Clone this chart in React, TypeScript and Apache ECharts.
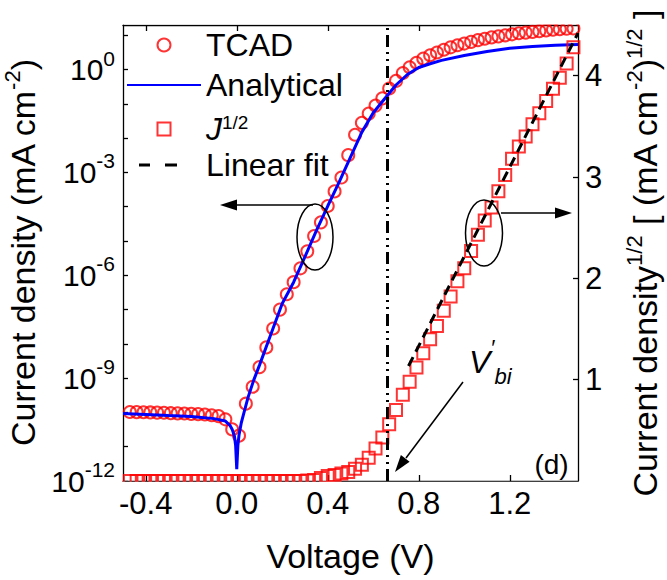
import React, { useEffect, useRef } from 'react';
import * as echarts from 'echarts';

// ---------- data ----------
const voltage = [
  -0.47, -0.44, -0.41, -0.38, -0.35, -0.32, -0.29, -0.26, -0.23, -0.2, -0.17, -0.14, -0.11, -0.08, -0.05, -0.02,
  0.01, 0.04, 0.07, 0.1, 0.13, 0.16, 0.19, 0.22, 0.25, 0.28, 0.31, 0.34, 0.37, 0.4, 0.43, 0.46, 0.49, 0.52,
  0.55, 0.58, 0.61, 0.64, 0.67, 0.7, 0.73, 0.76, 0.79, 0.82, 0.85, 0.88, 0.91, 0.94, 0.97, 1.0, 1.03, 1.06,
  1.09, 1.12, 1.15, 1.18, 1.21, 1.24, 1.27, 1.3, 1.33, 1.36, 1.39, 1.42, 1.45, 1.48,
];
// TCAD current density (mA cm^-2), left log axis
const tcadJ = [
  1.03e-10, 1.02e-10, 1.01e-10, 1.0e-10, 9.9e-11, 9.8e-11, 9.5e-11, 9.4e-11, 9.3e-11, 9.1e-11, 8.9e-11, 8.7e-11,
  8.3e-11, 7.8e-11, 6.3e-11, 3.2e-11, 2.1e-11, 1.8e-10, 5.6e-10, 2.1e-9, 7.9e-9, 2.8e-8, 1.0e-7, 2.8e-7, 6.3e-7,
  1.6e-6, 5.0e-6, 1.4e-5, 3.5e-5, 1.05e-4, 2.8e-4, 7.1e-4, 3.2e-3, 1.26e-2, 2.8e-2, 5.2e-2, 8.9e-2, 0.145, 0.282,
  0.468, 0.794, 1.17, 1.58, 2.09, 2.63, 3.16, 3.8, 4.47, 5.13, 5.75, 6.46, 7.24, 7.94, 8.71, 9.33, 10.0, 10.7,
  11.5, 12.0, 12.6, 13.2, 13.8, 14.5, 15.0, 15.5, 15.8,
];
// J^1/2 ((mA cm^-2)^1/2), right axis
const sqrtJ = [
  0, 0, 0, 0, 0, 0, 0, 0, 0, 0, 0, 0, 0, 0, 0, 0, 0, 0, 0, 0, 0, 0, 0, 0, 0, 0, 0.005, 0.01, 0.03, 0.05, 0.06,
  0.075, 0.09, 0.12, 0.16, 0.23, 0.32, 0.43, 0.56, 0.7, 0.85, 0.98, 1.12, 1.26, 1.4, 1.53, 1.68, 1.82, 1.97,
  2.1, 2.27, 2.43, 2.57, 2.7, 2.86, 3.02, 3.18, 3.3, 3.4, 3.52, 3.63, 3.75, 3.87, 3.98, 4.12, 4.28,
];
// Analytical model curve
const analyticalV = [
  -0.5, -0.4, -0.3, -0.2, -0.1, -0.05, -0.03, -0.02, -0.01, -0.005, 0, 0.005, 0.01, 0.02, 0.03, 0.05, 0.075,
  0.1, 0.15, 0.2, 0.25, 0.3, 0.35, 0.4, 0.45, 0.5, 0.55, 0.6, 0.65, 0.7, 0.75, 0.8, 0.85, 0.9, 1.0, 1.1, 1.2,
  1.3, 1.4, 1.5,
];
const analyticalJ = [
  9.3e-11, 8.7e-11, 8.1e-11, 7.6e-11, 6.6e-11, 5.6e-11, 4.2e-11, 3.2e-11, 2.0e-11, 1.1e-11, 2.2e-12, 1.1e-11,
  2.2e-11, 5.0e-11, 8.9e-11, 2.8e-10, 8.9e-10, 2.4e-9, 1.9e-8, 1.5e-7, 6.3e-7, 3.5e-6, 2.0e-5, 1.05e-4, 5.2e-4,
  2.8e-3, 1.5e-2, 5.5e-2, 0.141, 0.355, 0.72, 1.15, 1.48, 1.86, 2.57, 3.39, 4.17, 4.73, 5.13, 5.43,
];
// Linear fit of J^1/2
const fitV = [0.755, 1.5];
const fitSqrtJ = [1.135, 4.42];
// V'bi marker
const vbiVoltage = 0.66;

// ticks
const xTicks = [-0.4, 0, 0.4, 0.8, 1.2];
const leftLabelTicks = [1e-12, 1e-9, 1e-6, 1e-3, 1];
const leftTicks = [1e-12, 1e-11, 1e-10, 1e-9, 1e-8, 1e-7, 1e-6, 1e-5, 1e-4, 1e-3, 1e-2, 1e-1, 1, 10];
const rightTicks = [1, 2, 3, 4];

const FONT = '"Liberation Sans", Arial, Helvetica, sans-serif';
const BLACK = '#000000';
const RED = '#ff0000';
const BLUE = '#0000ff';
const CLEAR = 'rgba(255,255,255,0)';

export default function App() {
  const ref = useRef<HTMLDivElement>(null);

  useEffect(() => {
    if (!ref.current) return;
    const chart = echarts.init(ref.current, null, { renderer: 'svg' });

    const tcadData = voltage.map((v, i) => [v, tcadJ[i]]);
    const sqrtData = voltage.map((v, i) => [v, sqrtJ[i]]);
    const analyticalData = analyticalV.map((v, i) => [v, analyticalJ[i]]);
    const fitData = fitV.map((v, i) => [v, fitSqrtJ[i]]);

    const axisLine = { show: true, onZero: false, lineStyle: { color: BLACK, width: 1.3 } };
    const tickLine = { color: BLACK, width: 1.3 };

    const nameRich = {
      t: { fontSize: 34, lineHeight: 44, fontFamily: FONT, color: BLACK },
      s: { fontSize: 22, lineHeight: 22, fontFamily: FONT, color: BLACK, verticalAlign: 'top' },
    };
    const hiddenSymbol = { color: CLEAR, borderColor: CLEAR, borderWidth: 0, opacity: 0 };

    const option: any = {
      animation: false,
      backgroundColor: '#ffffff',
      grid: { left: 123, right: 89, top: 25, bottom: 99, containLabel: false, outerBoundsMode: 'none' },
      legend: {
        orient: 'vertical',
        left: 126,
        top: 25,
        padding: 0,
        itemGap: 0,
        itemWidth: 74,
        itemHeight: 13,
        selectedMode: false,
        textStyle: {
          fontSize: 32,
          fontFamily: FONT,
          color: BLACK,
          lineHeight: 40,
          rich: {
            i: {
              fontSize: 32,
              fontStyle: 'italic',
              fontFamily: FONT,
              color: BLACK,
              lineHeight: 32,
              padding: [8, 0, 0, 0],
              verticalAlign: 'bottom',
            },
            s: { fontSize: 19, fontFamily: FONT, color: BLACK, lineHeight: 19, verticalAlign: 'top' },
          },
        },
        formatter: (name: string) => (name === 'J1/2' ? '{i|J}{s|1/2}' : name),
        data: [
          { name: 'TCAD', icon: 'circle' },
          { name: 'Analytical', itemStyle: hiddenSymbol },
          { name: 'J1/2', icon: 'path://M0,0H10V10H0Z' },
          {
            name: 'Linear fit',
            icon: 'path://M0,0L0.01,0M12,5H23V8H12ZM38,5H50V8H38ZM74,13L74.01,13',
            itemStyle: { color: BLACK, borderWidth: 0 },
          },
        ],
      },
      xAxis: [
        {
          type: 'value',
          position: 'bottom',
          min: -0.5,
          max: 1.5,
          axisLine,
          axisTick: { inside: true, length: 6, customValues: xTicks, lineStyle: tickLine },
          axisLabel: {
            customValues: xTicks,
            formatter: (v: number) => v.toFixed(1),
            fontSize: 31,
            fontFamily: FONT,
            color: BLACK,
            margin: 7,
          },
          splitLine: { show: false },
          name: 'Voltage (V)',
          nameLocation: 'middle',
          nameGap: 58,
          nameTextStyle: { fontSize: 34, fontFamily: FONT, color: BLACK },
        },
        {
          type: 'value',
          position: 'top',
          min: -0.5,
          max: 1.5,
          axisLine,
          axisTick: { inside: true, length: 6, customValues: xTicks, lineStyle: tickLine },
          axisLabel: { show: false },
          splitLine: { show: false },
        },
      ],
      yAxis: [
        {
          type: 'log',
          logBase: 10,
          min: 1e-12,
          max: 20,
          position: 'left',
          axisLine,
          axisTick: { inside: true, length: 5, customValues: leftTicks, lineStyle: tickLine },
          axisLabel: {
            customValues: leftLabelTicks,
            formatter: (v: number) => `{b|10}{s|${Math.round(Math.log10(v))}}`,
            margin: 8,
            rich: {
              b: { fontSize: 30, lineHeight: 44, fontFamily: FONT, color: BLACK },
              s: { fontSize: 21, lineHeight: 21, fontFamily: FONT, color: BLACK, verticalAlign: 'top' },
            },
          },
          splitLine: { show: false },
          minorTick: { show: false },
          name: '{t|Current density (mA cm}{s|-2}{t|)}',
          nameLocation: 'middle',
          nameRotate: 90,
          nameGap: 67,
          nameTextStyle: { rich: nameRich },
        },
        {
          type: 'value',
          min: 0,
          max: 4.5,
          position: 'right',
          axisLine,
          axisTick: { inside: true, length: 5, customValues: rightTicks, lineStyle: tickLine },
          axisLabel: {
            customValues: rightTicks,
            fontSize: 31,
            fontFamily: FONT,
            color: BLACK,
            margin: 7,
          },
          splitLine: { show: false },
          name: '{t|Current density}{s|1/2}{t| [ (mA cm}{s|-2}{t|)}{s|1/2}{t| ]}',
          nameLocation: 'middle',
          nameRotate: 90,
          nameGap: 45,
          nameTextStyle: { rich: nameRich },
        },
      ],
      series: [
        {
          name: 'TCAD',
          type: 'scatter',
          xAxisIndex: 0,
          yAxisIndex: 0,
          symbol: 'circle',
          symbolSize: 12,
          itemStyle: { color: CLEAR, borderColor: RED, borderWidth: 2 },
          data: tcadData,
          z: 2,
        },
        {
          name: 'Analytical',
          type: 'line',
          xAxisIndex: 0,
          yAxisIndex: 0,
          symbol: 'none',
          showSymbol: false,
          lineStyle: { color: BLUE, width: 3 },
          itemStyle: { color: BLUE },
          data: analyticalData,
          z: 3,
          markLine: {
            silent: true,
            symbol: 'none',
            label: { show: false },
            lineStyle: { color: BLACK, width: 3, type: [12, 5, 2, 5, 2, 5] },
            data: [{ xAxis: vbiVoltage }],
          },
        },
        {
          name: 'J1/2',
          type: 'scatter',
          xAxisIndex: 0,
          yAxisIndex: 1,
          symbol: 'rect',
          symbolSize: 12,
          itemStyle: { color: CLEAR, borderColor: RED, borderWidth: 2 },
          data: sqrtData,
          z: 4,
        },
        {
          name: 'Linear fit',
          type: 'line',
          xAxisIndex: 0,
          yAxisIndex: 1,
          symbol: 'none',
          showSymbol: false,
          lineStyle: { color: BLACK, width: 3, type: [10, 6] },
          itemStyle: { color: BLACK },
          data: fitData,
          z: 5,
        },
      ],
      graphic: [
        // masks outside the frame (clip partly drawn symbols)
        { type: 'rect', z: 50, silent: true, shape: { x: 118, y: 0, width: 470, height: 24.4 }, style: { fill: '#ffffff' } },
        { type: 'rect', z: 50, silent: true, shape: { x: 118, y: 481.7, width: 470, height: 8 }, style: { fill: '#ffffff' } },
        // left ellipse + arrow
        { type: 'ellipse', z: 60, shape: { cx: 315, cy: 237, rx: 18, ry: 33 }, style: { fill: 'none', stroke: BLACK, lineWidth: 1.5 } },
        { type: 'line', z: 60, shape: { x1: 313, y1: 205, x2: 234, y2: 205 }, style: { stroke: BLACK, lineWidth: 1.5 } },
        { type: 'polygon', z: 60, shape: { points: [[220, 205], [237, 199.5], [237, 210.5]] }, style: { fill: BLACK } },
        // right ellipse + arrow
        { type: 'ellipse', z: 60, shape: { cx: 484, cy: 233, rx: 18.5, ry: 33 }, style: { fill: 'none', stroke: BLACK, lineWidth: 1.5 } },
        { type: 'line', z: 60, shape: { x1: 501, y1: 213, x2: 557, y2: 213 }, style: { stroke: BLACK, lineWidth: 1.5 } },
        { type: 'polygon', z: 60, shape: { points: [[572, 213], [555, 207.5], [555, 218.5]] }, style: { fill: BLACK } },
        // V'bi arrow
        { type: 'line', z: 60, shape: { x1: 463, y1: 382, x2: 406, y2: 458 }, style: { stroke: BLACK, lineWidth: 1.5 } },
        { type: 'polygon', z: 60, shape: { points: [[395, 472], [409.6, 461.7], [400.9, 455.1]] }, style: { fill: BLACK } },
        // V'bi label (V, prime, subscript bi)
        {
          type: 'text',
          z: 60,
          x: 469,
          y: 362,
          style: {
            text: '{v|V}{p|\u2032}{b|bi}',
            textAlign: 'left',
            textVerticalAlign: 'middle',
            rich: {
              v: { fontSize: 32, fontStyle: 'italic', fontFamily: FONT, fill: BLACK, lineHeight: 51 },
              p: { fontSize: 22, fontStyle: 'italic', fontFamily: FONT, fill: BLACK, lineHeight: 24, verticalAlign: 'top' },
              b: { fontSize: 22, fontStyle: 'italic', fontFamily: FONT, fill: BLACK, lineHeight: 16, verticalAlign: 'bottom' },
            },
          },
        },
        // panel label
        { type: 'text', z: 60, x: 551.5, y: 464, style: { text: '(d)', font: `28px ${FONT}`, fill: BLACK, textAlign: 'center', textVerticalAlign: 'middle' } },
      ],
    };

    chart.setOption(option);
    return () => chart.dispose();
  }, []);

  return (
    <div
      ref={ref}
      style={{ position: 'fixed', left: 0, top: 0, width: 667, height: 580, background: '#ffffff' }}
    />
  );
}
